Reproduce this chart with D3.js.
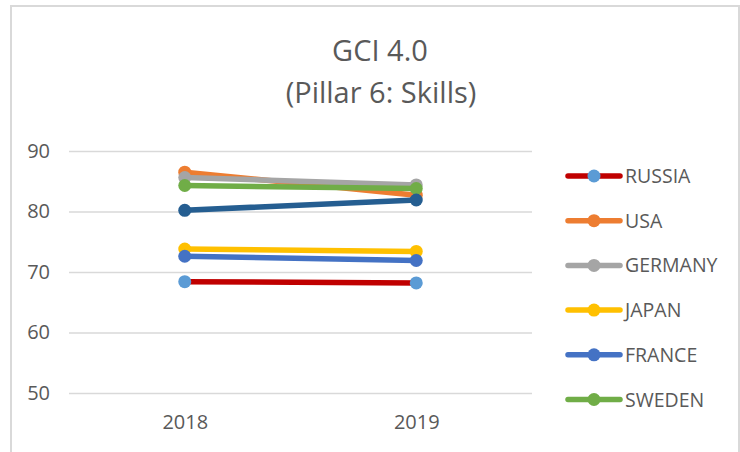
<!DOCTYPE html>
<html>
<head>
<meta charset="utf-8">
<script src="https://cdn.jsdelivr.net/npm/d3@7"></script>
<style>
  body { margin: 0; background: #fff; }
  text { font-family: "Open Sans", "Noto Sans", sans-serif; fill: #595959; }
</style>
</head>
<body>
<div id="chart"></div>
<script>
let width = 740
let height = 452

// data
let years = ["2018", "2019"]
let countries = ["RUSSIA", "USA", "GERMANY", "JAPAN", "FRANCE", "SWEDEN", ""]
let russia = [68.4, 68.2]
let usa = [86.5, 82.7]
let germany = [85.6, 84.4]
let japan = [73.8, 73.4]
let france = [72.6, 71.9]
let sweden = [84.3, 83.8]
let seventh = [80.2, 81.9]   // drawn, but no legend entry shows in the picture
let yTicks = [50, 60, 70, 80, 90]

let lineColors = ["#C00000", "#ED7D31", "#A5A5A5", "#FFC000", "#4472C4", "#70AD47", "#255E91"]
let markerColors = ["#5B9BD5", "#ED7D31", "#A5A5A5", "#FFC000", "#4472C4", "#70AD47", "#255E91"]

let series = [russia, usa, germany, japan, france, sweden, seventh].map((vals, i) => ({
  name: countries[i],
  values: vals.map((v, j) => ({ year: years[j], value: v })),
  line: lineColors[i],
  marker: markerColors[i]
}))

let svg = d3.select("#chart")
  .append("svg")
  .attr("width", width)
  .attr("height", height)

// chart border (bottom runs off the picture)
svg.append("rect")
  .attr("x", 11)
  .attr("y", 6)
  .attr("width", 728)
  .attr("height", 470)
  .attr("fill", "#fff")
  .attr("stroke", "#d9d9d9")
  .attr("stroke-width", 2)

// -- title
svg.append("text")
  .attr("x", 380)
  .attr("y", 61)
  .attr("text-anchor", "middle")
  .style("font-size", "29px")
  .text("GCI 4.0")
svg.append("text")
  .attr("x", 381)
  .attr("y", 103)
  .attr("text-anchor", "middle")
  .style("font-size", "29px")
  .text("(Pillar 6: Skills)")

// -- scales
let xScale = d3.scalePoint()
  .domain(years)
  .range([69, 532])
  .padding(0.5)

let yScale = d3.scaleLinear()
  .domain([50, 90])
  .range([393, 151])

// -- Y axis with gridlines
let yAxis = d3.axisLeft(yScale)
  .tickValues(yTicks)
  .tickSize(-(532 - 69))
  .tickPadding(19)
svg.append("g")
  .attr("transform", "translate(69, 0)")
  .call(yAxis)
  .call(g => g.select(".domain").remove())
  .call(g => g.selectAll(".tick line").attr("stroke", "#d9d9d9").attr("stroke-width", 1.5))
  .call(g => g.selectAll(".tick text").style("font-size", "20px").attr("fill", "#595959"))

// -- X axis labels
let xAxis = d3.axisBottom(xScale).tickSize(0).tickPadding(22)
svg.append("g")
  .attr("transform", "translate(0, 393)")
  .call(xAxis)
  .call(g => g.select(".domain").remove())
  .call(g => g.selectAll(".tick text").style("font-size", "20px").attr("fill", "#595959"))

// -- lines and markers
let line = d3.line()
  .x(d => xScale(d.year))
  .y(d => yScale(d.value))

let groups = svg.selectAll(".series")
  .data(series)
  .enter()
  .append("g")
  .attr("class", "series")

groups.append("path")
  .attr("d", d => line(d.values))
  .attr("fill", "none")
  .attr("stroke", d => d.line)
  .attr("stroke-width", 5.5)
  .attr("stroke-linecap", "round")

groups.selectAll("circle")
  .data(d => d.values.map(v => Object.assign({ color: d.marker }, v)))
  .enter()
  .append("circle")
  .attr("cx", d => xScale(d.year))
  .attr("cy", d => yScale(d.value))
  .attr("r", 6.5)
  .attr("fill", d => d.color)

// -- legend
let legendItems = series.filter(d => d.name !== "")
let legend = svg.selectAll(".legend")
  .data(legendItems)
  .enter()
  .append("g")
  .attr("class", "legend")
  .attr("transform", (d, i) => "translate(568," + (176 + i * 44.7) + ")")

legend.append("line")
  .attr("x1", 0)
  .attr("x2", 52)
  .attr("stroke", d => d.line)
  .attr("stroke-width", 5.5)
  .attr("stroke-linecap", "round")
legend.append("circle")
  .attr("cx", 26)
  .attr("r", 6.5)
  .attr("fill", d => d.marker)
legend.append("text")
  .attr("x", 57)
  .attr("dy", "0.36em")
  .style("font-size", "19.5px")
  .text(d => d.name)
</script>
</body>
</html>
